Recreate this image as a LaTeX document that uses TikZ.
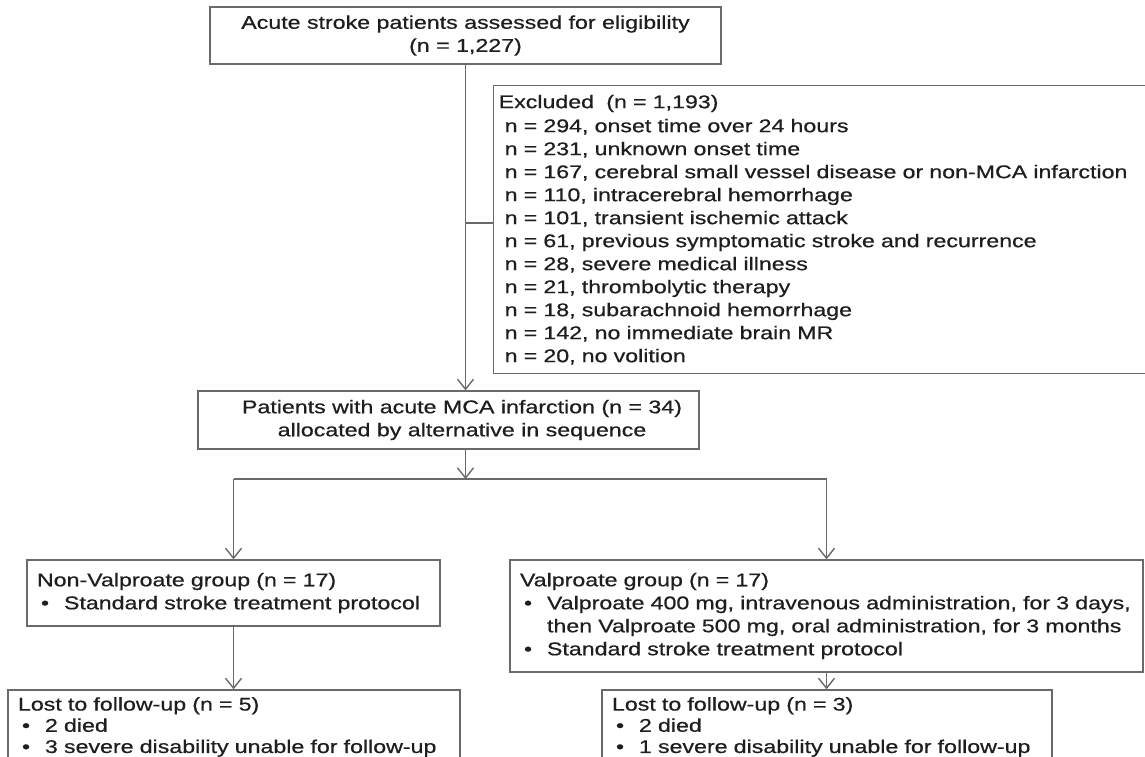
\documentclass[tikz,border=0pt]{standalone}
\usepackage{fontspec}
\setmainfont{Liberation Sans}[FakeStretch=1.26, FakeBold=0.6]
\usetikzlibrary{arrows.meta}
\definecolor{txt}{HTML}{1E1E1E}
\definecolor{ln}{HTML}{6A6A6A}
\tikzset{
  every node/.style={font=\fontsize{9.2pt}{11.5pt}\selectfont, text=txt},
  box/.style={draw=ln, line width=0.7pt, rectangle, inner ysep=0pt},
  conn/.style={draw=ln, line width=0.7pt},
  arr/.style={conn, -{Straight Barb[length=5pt,width=8pt]}},
  lostbox/.style={box, font=\fontsize{9.2pt}{10.6pt}\selectfont},
}
\newcommand{\bul}{\hspace*{2pt}\makebox[11.5pt][l]{•}}
\newcommand{\cont}{\hspace*{13.5pt}}
\begin{document}
\begin{tikzpicture}[x=0.5pt,y=-0.5pt]
\useasboundingbox (0,0) rectangle (1145,756);
\clip (0,0) rectangle (1145,756);
\fill[white] (0,0) rectangle (1145,756);

% top box
\node[box, minimum width=255.5pt, minimum height=28.5pt, align=center] (top) at (465.5,35.5)
  {Acute stroke patients assessed for eligibility\\(n = 1,227)};

% excluded box
\node[box, minimum width=333.5pt, minimum height=144pt, text width=328.5pt, inner xsep=2.5pt, align=left, anchor=north west] (excl) at (493,85)
  {\vspace*{0.5pt}Excluded~ (n = 1,193)\\
   \hspace*{3pt}n = 294, onset time over 24 hours\\
   \hspace*{3pt}n = 231, unknown onset time\\
   \hspace*{3pt}n = 167, cerebral small vessel disease or non-MCA infarction\\
   \hspace*{3pt}n = 110, intracerebral hemorrhage\\
   \hspace*{3pt}n = 101, transient ischemic attack\\
   \hspace*{3pt}n = 61, previous symptomatic stroke and recurrence\\
   \hspace*{3pt}n = 28, severe medical illness\\
   \hspace*{3pt}n = 21, thrombolytic therapy\\
   \hspace*{3pt}n = 18, subarachnoid hemorrhage\\
   \hspace*{3pt}n = 142, no immediate brain MR\\
   \hspace*{3pt}n = 20, no volition};

% patients box
\node[box, minimum width=250.5pt, minimum height=29pt, align=center] (pat) at (448.5,420)
  {\hspace*{13.5pt}Patients with acute MCA infarction (n = 34)\\\hspace*{13.5pt}allocated by alternative in sequence};

% group boxes
\node[box, minimum width=206.5pt, minimum height=33pt, text width=196.5pt, inner xsep=5pt, align=left] (nonval) at (233.5,593)
  {Non-Valproate group (n = 17)\\
   \bul Standard stroke treatment protocol};

\node[box, minimum width=316.5pt, minimum height=56pt, text width=306.5pt, inner xsep=5pt, align=left] (val) at (826.5,616)
  {Valproate group (n = 17)\\
   \bul Valproate 400 mg, intravenous administration, for 3 days,\\
   \cont then Valproate 500 mg, oral administration, for 3 months\\
   \bul Standard stroke treatment protocol};

% lost boxes
\node[lostbox, minimum width=226pt, minimum height=37pt, text width=216pt, inner xsep=5pt, align=left] (lostL) at (234,727)
  {Lost to follow-up (n = 5)\\
   \bul 2 died\\
   \bul 3 severe disability unable for follow-up};

\node[lostbox, minimum width=225pt, minimum height=37pt, text width=215pt, inner xsep=5pt, align=left] (lostR) at (827,727)
  {Lost to follow-up (n = 3)\\
   \bul 2 died\\
   \bul 1 severe disability unable for follow-up};

% connectors
\coordinate (br) at (465.5,223);
\coordinate (split) at (465.5,479);
\draw[arr] (top.south) -- (top.south |- pat.north);
\draw[conn] (br) -- (br -| excl.west);
\draw[arr] (split |- pat.south) -- (split);
\draw[conn] (split -| nonval.north) -- (split -| val.north);
\draw[arr] (split -| nonval.north) -- (nonval.north);
\draw[arr] (split -| val.north) -- (val.north);
\draw[arr] (nonval.south) -- (nonval.south |- lostL.north);
\draw[arr] (val.south) -- (val.south |- lostR.north);
\end{tikzpicture}
\end{document}
